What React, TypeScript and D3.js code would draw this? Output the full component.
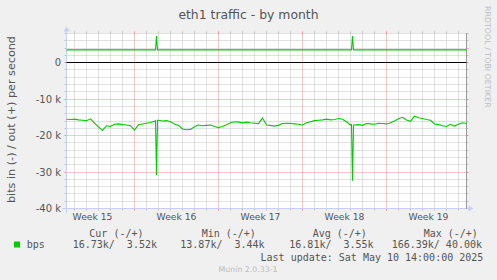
import React from 'react';
import * as d3 from 'd3';

// ---- data ----
// hours since the start of the graph window
const HOURS = [
  0, 8, 16, 24, 32, 40, 48, 56, 64, 72, 80, 88, 96, 104, 112, 120, 128, 136, 144, 152, 160, 168, 176,
  178, 180, 182,
  184, 192, 200, 208, 216, 224, 232, 240, 248, 256, 264, 272, 280, 288, 296, 304, 312, 320, 328, 336,
  344, 352, 360, 368, 376, 384, 392, 400, 408, 416, 424, 432, 440, 448, 456, 464, 472, 480, 488, 496,
  504, 512, 520, 528, 536, 544, 552, 560, 568,
  570, 572, 574,
  576, 584, 592, 600, 608, 616, 624, 632, 640, 648, 656, 664, 672, 680, 688, 696, 704, 712, 720, 728,
  736, 744, 752, 760, 768, 776, 784, 792, 800,
];
// incoming traffic (drawn negative), kbit/s
const IN_K = [
  -15.5, -15.6, -15.5, -15.7, -15.8, -15.9, -15.4, -16.6, -17.6, -18.6, -17.3, -17.5, -16.9, -16.8, -17.0, -17.1, -17.3, -18.5, -17.0, -16.8, -16.6, -16.4, -16.1,
  -15.9, -30.8, -15.8,
  -15.8, -16.0, -15.9, -16.2, -16.8, -17.2, -18.2, -18.4, -18.3, -17.6, -17.1, -17.3, -17.2, -17.1, -17.5, -17.8, -17.5, -17.0, -16.5, -16.2,
  -16.3, -16.5, -16.3, -16.5, -16.6, -16.7, -15.2, -17.1, -17.2, -17.4, -17.2, -16.7, -16.6, -16.7, -16.8, -16.9, -17.1, -16.5, -16.2, -15.9,
  -15.8, -15.7, -15.5, -15.7, -15.6, -15.3, -15.5, -16.2, -17.1,
  -17.0, -32.4, -17.1,
  -17.1, -17.0, -17.2, -16.7, -16.8, -16.9, -16.6, -16.7, -16.8, -16.5, -16.0, -15.4, -15.0, -15.7, -16.1, -14.7, -15.1, -15.3, -15.6, -15.8,
  -16.8, -17.0, -17.3, -17.5, -16.9, -17.4, -16.9, -16.5, -16.7,
];
// outgoing traffic, kbit/s
const OUT_K = [
  3.52, 3.52, 3.52, 3.52, 3.52, 3.52, 3.52, 3.52, 3.52, 3.52, 3.52, 3.52, 3.52, 3.52, 3.52, 3.52, 3.52, 3.52, 3.52, 3.52, 3.52, 3.52, 3.52,
  3.52, 7.3, 3.52,
  3.52, 3.52, 3.52, 3.52, 3.52, 3.52, 3.52, 3.52, 3.52, 3.52, 3.52, 3.52, 3.52, 3.52, 3.52, 3.52, 3.52, 3.52, 3.52, 3.52,
  3.52, 3.52, 3.52, 3.52, 3.52, 3.52, 3.52, 3.52, 3.52, 3.52, 3.52, 3.52, 3.52, 3.52, 3.52, 3.52, 3.52, 3.52, 3.52, 3.52,
  3.52, 3.52, 3.52, 3.52, 3.52, 3.52, 3.52, 3.52, 3.52,
  3.52, 7.3, 3.52,
  3.52, 3.52, 3.52, 3.52, 3.52, 3.52, 3.52, 3.52, 3.52, 3.52, 3.52, 3.52, 3.52, 3.52, 3.52, 3.52, 3.52, 3.52, 3.52, 3.52,
  3.52, 3.52, 3.52, 3.52, 3.52, 3.52, 3.52, 3.52, 3.52,
];

const WEEK_STARTS = ['2025-04-06', '2025-04-13', '2025-04-20', '2025-04-27', '2025-05-04'];
const WEEK_LABELS = ['Week 15', 'Week 16', 'Week 17', 'Week 18', 'Week 19'];
const Y_TICKS = [0, -10000, -20000, -30000, -40000];
const Y_TICK_LABELS = ['0', '-10 k', '-20 k', '-30 k', '-40 k'];
const Y_MIN = -40000;
const Y_MAX = 8000;
const Y_MINOR_STEP = 2000;

const TITLE = 'eth1 traffic - by month';
const Y_LABEL = 'bits in (-) / out (+) per second';
const SERIES_NAME = 'bps';
const LEGEND_HEADERS = ['Cur (-/+)', 'Min (-/+)', 'Avg (-/+)', 'Max (-/+)'];
const LEGEND_VALUES = ['16.73k/  3.52k', '13.87k/  3.44k', '16.81k/  3.55k', '166.39k/ 40.00k'];
const LAST_UPDATE = 'Last update: Sat May 10 14:00:00 2025';
const SIDE_TEXT = 'RRDTOOL / TOBI OETIKER';
const FOOTER = 'Munin 2.0.33-1';

// ---- layout ----
const W = 497, H = 280;
const X0 = 66.5, X1 = 466.5, Y0 = 208.5, Y1 = 33.5;
const END = Date.UTC(2025, 4, 10, 16, 0);
const START = END - 800 * 3600e3;
const HEADER_X = [89.3, 201.7, 312.7, 423.7];
const VALUE_X = [72.7, 180.3, 289.3, 391.7];

const SANS = '"DejaVu Sans", sans-serif';
const MONO = '"DejaVu Sans Mono", monospace';
const TXT = '#555555';
const AXIS = '#C8CEF4';
const GREEN = '#00CC00';
const MINOR = '#C2C2C2';
const MAJOR = '#EE8F8F';

export default function App() {
  const x = d3.scaleUtc().domain([new Date(START), new Date(END)]).range([X0, X1]);
  const y = d3.scaleLinear().domain([Y_MIN, Y_MAX]).range([Y0, Y1]);
  const snap = (v: number) => Math.floor(v) + 0.5;
  const hd = (h: number) => new Date(START + h * 3600e3);

  const weekDates = WEEK_STARTS.map((s) => new Date(s + 'T00:00:00Z'));
  const weekTimes = new Set(weekDates.map((d) => d.getTime()));
  const majorX = weekDates.filter((d) => d.getTime() > START && d.getTime() < END);
  const minorX = d3.utcDay.range(new Date(START), new Date(END)).filter((d) => !weekTimes.has(d.getTime()));
  const minorY = d3.range(Y_MIN, Y_MAX + 1, Y_MINOR_STEP).filter((v) => v % 10000 !== 0);

  const lineIn = d3.line<number>().x((_, i) => x(hd(HOURS[i]))).y((v) => y(v * 1000));
  const lineOut = d3.line<number>().x((_, i) => x(hd(HOURS[i]))).y((v) => y(v * 1000));

  const hLine = (v: number, color: string, key: string) => {
    const yy = snap(y(v));
    return (
      <g key={key}>
        <line x1={X0 - 2} x2={X0} y1={yy} y2={yy} stroke={color} />
        <line x1={X1} x2={X1 + 2} y1={yy} y2={yy} stroke={color} />
        <line x1={X0} x2={X1} y1={yy} y2={yy} stroke={color} strokeDasharray="1,1" />
      </g>
    );
  };
  const vLine = (d: Date, color: string, key: string) => {
    const xx = snap(x(d));
    return (
      <g key={key}>
        <line x1={xx} x2={xx} y1={Y1 - 2} y2={Y1} stroke={color} />
        <line x1={xx} x2={xx} y1={Y0} y2={Y0 + 2} stroke={color} />
        <line x1={xx} x2={xx} y1={Y1} y2={Y0} stroke={color} strokeDasharray="1,1" />
      </g>
    );
  };

  return (
    <svg width={W} height={H} style={{ position: 'absolute', left: 0, top: 0 }} xmlSpace="preserve">
      <rect x={0} y={0} width={W} height={H} fill="#F0F0F0" />
      <rect x={X0} y={Y1 - 0.5} width={X1 - X0} height={Y0 - Y1 + 1} fill="#FFFFFF" />

      {minorY.map((v) => hLine(v, MINOR, 'my' + v))}
      {minorX.map((d) => vLine(d, MINOR, 'mx' + d.getTime()))}
      {Y_TICKS.map((v) => hLine(v, MAJOR, 'My' + v))}
      {majorX.map((d) => vLine(d, MAJOR, 'Mx' + d.getTime()))}

      {/* axes */}
      <line x1={X0 - 4} x2={X1 + 2} y1={Y0} y2={Y0} stroke={AXIS} />
      <path d={`M${X1 + 2},${Y0 - 3}L${X1 + 7},${Y0}L${X1 + 2},${Y0 + 3}Z`} fill={AXIS} />
      <line x1={X0} x2={X0} y1={Y0 + 4} y2={Y1 - 2} stroke={AXIS} />
      <path d={`M${X0 - 3},${Y1 - 2}L${X0},${Y1 - 7}L${X0 + 3},${Y1 - 2}Z`} fill={AXIS} />
      <line x1={X1} x2={X1} y1={Y1 - 0.5} y2={Y0 + 0.5} stroke="#9A9A9A" />

      {/* zero rule */}
      <line x1={X0} x2={X1} y1={snap(y(0))} y2={snap(y(0))} stroke="#000000" />

      {/* data */}
      <path d={lineOut(OUT_K) || ''} fill="none" stroke={GREEN} strokeWidth={1.1} />
      <path d={lineIn(IN_K) || ''} fill="none" stroke={GREEN} strokeWidth={1.1} />

      {/* y tick labels */}
      {Y_TICKS.map((v, i) => (
        <text key={'yt' + v} x={61} y={snap(y(v)) + 3.5} textAnchor="end" fontFamily={SANS} fontSize={10} fill={TXT}>
          {Y_TICK_LABELS[i]}
        </text>
      ))}
      {/* week labels */}
      {weekDates.map((d, i) => (
        <text key={'wl' + i} x={x(new Date(d.getTime() + 3.5 * 86400e3))} y={220} textAnchor="middle" fontFamily={SANS} fontSize={9.2} fill={TXT}>
          {WEEK_LABELS[i]}
        </text>
      ))}

      {/* title & labels */}
      <text x={248.5} y={18.5} textAnchor="middle" fontFamily={SANS} fontSize={12.4} fill={TXT}>{TITLE}</text>
      <text transform={`translate(14.5,119.5) rotate(-90)`} textAnchor="middle" fontFamily={SANS} fontSize={11.2} fill={TXT}>{Y_LABEL}</text>
      <text transform={`translate(485,6) rotate(90)`} textAnchor="start" fontFamily={SANS} fontSize={7.9} fill="#BDBDBD">{SIDE_TEXT}</text>

      {/* legend */}
      {LEGEND_HEADERS.map((t, i) => (
        <text key={'lh' + i} x={HEADER_X[i]} y={236.5} fontFamily={MONO} fontSize={10} fill={TXT} style={{ whiteSpace: 'pre' }}>{t}</text>
      ))}
      <rect x={14} y={241.5} width={6} height={6} fill={GREEN} />
      <text x={26.7} y={248.3} fontFamily={MONO} fontSize={10} fill={TXT}>{SERIES_NAME}</text>
      {LEGEND_VALUES.map((t, i) => (
        <text key={'lv' + i} x={VALUE_X[i]} y={248.3} fontFamily={MONO} fontSize={10} fill={TXT} style={{ whiteSpace: 'pre' }}>{t}</text>
      ))}
      <text x={483.3} y={261} textAnchor="end" fontFamily={MONO} fontSize={10} fill={TXT} style={{ whiteSpace: 'pre' }}>{LAST_UPDATE}</text>
      <text x={248} y={272} textAnchor="middle" fontFamily={SANS} fontSize={7.8} fill="#BBBBBB">{FOOTER}</text>
    </svg>
  );
}
